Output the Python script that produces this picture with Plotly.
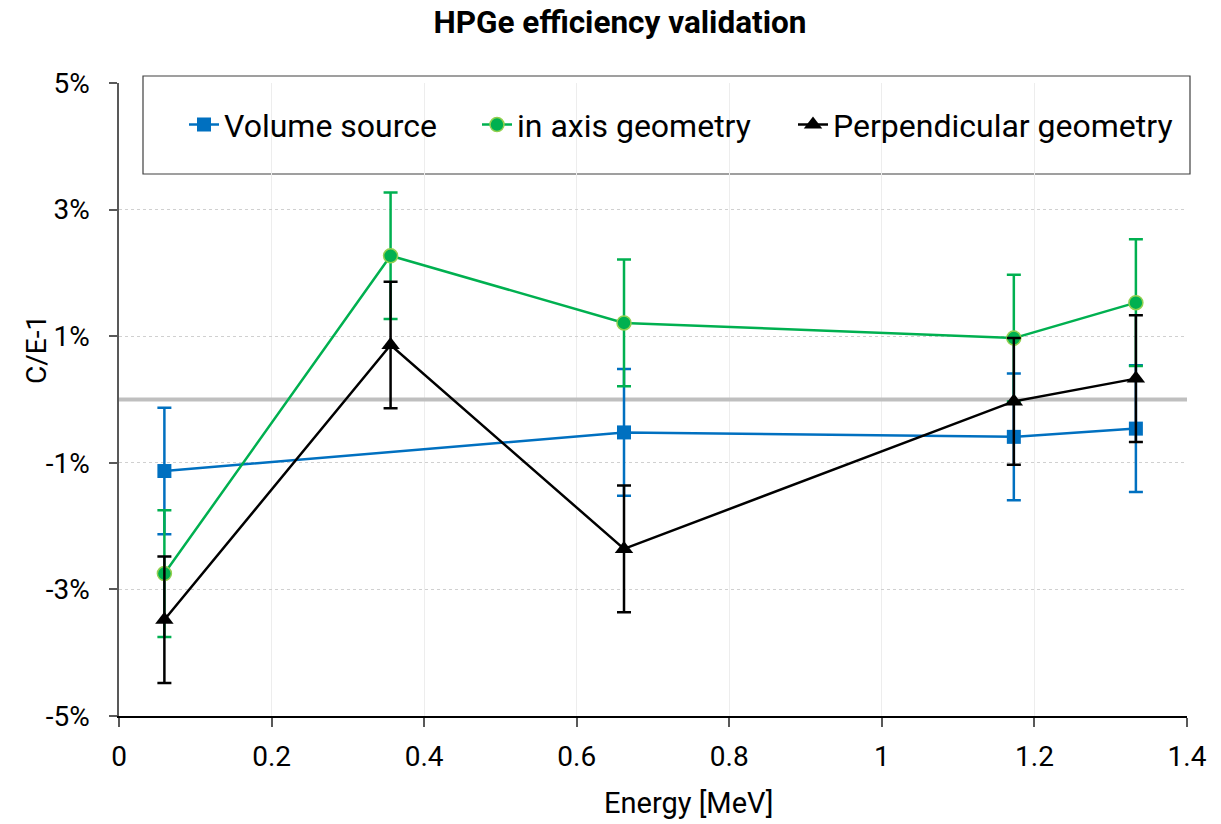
import plotly.graph_objects as go

# Data (C/E-1 in %, energies in MeV)
energy_vol = [0.0595, 0.662, 1.173, 1.333]
vol_source = [-1.13, -0.52, -0.59, -0.46]
vol_err = [1.0, 1.0, 1.0, 1.0]

energy_geo = [0.0595, 0.356, 0.662, 1.173, 1.333]
in_axis = [-2.75, 2.27, 1.21, 0.97, 1.53]
in_axis_err = [1.0, 1.0, 1.0, 1.0, 1.0]
perpendicular = [-3.48, 0.86, -2.36, -0.03, 0.33]
perp_err = [1.0, 1.0, 1.0, 1.0, 1.0]

zero_x = [0, 1.4]
zero_y = [0, 0]

y_tickvals = [-5, -3, -1, 1, 3, 5]
y_ticktext = ["-5%", "-3%", "-1%", "1%", "3%", "5%"]

FONT = "Roboto"
BLUE = "#0070C0"
GREEN = "#00B050"
BLACK = "#000000"

fig = go.Figure()

fig.add_trace(go.Scatter(x=zero_x, y=zero_y, mode="lines",
                         line=dict(color="#BFBFBF", width=4),
                         showlegend=False, hoverinfo="skip"))

fig.add_trace(go.Scatter(
    x=energy_vol, y=vol_source, name="Volume source", mode="lines+markers",
    line=dict(color=BLUE, width=2.5), legend="legend",
    marker=dict(symbol="square", size=14, color=BLUE),
    error_y=dict(type="data", array=vol_err, visible=True, color=BLUE,
                 thickness=2.5, width=7)))

fig.add_trace(go.Scatter(
    x=energy_geo, y=in_axis, name="in axis geometry", mode="lines+markers",
    line=dict(color=GREEN, width=2.5), legend="legend2",
    marker=dict(symbol="circle", size=14, color=GREEN,
                line=dict(color="#92D050", width=1.5)),
    error_y=dict(type="data", array=in_axis_err, visible=True, color=GREEN,
                 thickness=2.5, width=7)))

fig.add_trace(go.Scatter(
    x=energy_geo, y=perpendicular, name="Perpendicular geometry", mode="lines+markers",
    line=dict(color=BLACK, width=2.5), legend="legend3",
    marker=dict(symbol="triangle-up", size=16, color=BLACK),
    error_y=dict(type="data", array=perp_err, visible=True, color=BLACK,
                 thickness=2.5, width=7)))


def leg(px):
    return dict(orientation="h", x=(px - 119) / 1068, y=0.934, xanchor="left",
                yanchor="middle", bgcolor="rgba(0,0,0,0)", borderwidth=0,
                font=dict(family=FONT, size=32), itemwidth=30)


fig.update_layout(
    width=1221, height=824,
    margin=dict(l=119, r=34, t=83, b=108),
    paper_bgcolor="white", plot_bgcolor="white",
    font=dict(family=FONT, size=28, color="#000000"),
    title=dict(text="<b>HPGe efficiency validation</b>", x=620/1221, xanchor="center",
               y=1 - 22/824, yanchor="middle", font=dict(family=FONT, size=31.5)),
    xaxis=dict(range=[0, 1.4], dtick=0.2, tick0=0,
               showgrid=True, gridcolor="#EDEDED", gridwidth=1,
               showline=True, linecolor="#000000", linewidth=1.5,
               ticks="outside", ticklen=9, tickcolor="#595959", tickwidth=1.5,
               zeroline=False, tickfont=dict(size=28), ticklabelstandoff=6),
    yaxis=dict(range=[-5, 5], tickvals=y_tickvals, ticktext=y_ticktext,
               showgrid=True, gridcolor="#D0D0D0", griddash="dot", gridwidth=1,
               showline=True, linecolor="#595959", linewidth=1.5,
               ticks="outside", ticklen=8, tickcolor="#595959", tickwidth=1.5,
               zeroline=False, tickfont=dict(size=28), ticklabelstandoff=14),
    legend=leg(184),
    legend2=leg(477),
    legend3=leg(793),
    shapes=[dict(type="rect", xref="paper", yref="paper",
                 x0=(143 - 119) / 1068, x1=(1190 - 119) / 1068,
                 y0=(716 - 174) / 633, y1=(716 - 76) / 633,
                 line=dict(color="#404040", width=1.2), fillcolor="white", layer="below")],
    annotations=[
        dict(text="Energy [MeV]", xref="paper", yref="paper", x=(688 - 119) / 1068,
             y=(716 - 803) / 633, xanchor="center", yanchor="middle", showarrow=False,
             font=dict(family=FONT, size=29)),
        dict(text="C/E-1", xref="paper", yref="paper", x=(36 - 119) / 1068,
             y=(716 - 350) / 633, xanchor="center", yanchor="middle", showarrow=False,
             textangle=-90, font=dict(family=FONT, size=28)),
    ],
)

fig.write_html("out.html")
